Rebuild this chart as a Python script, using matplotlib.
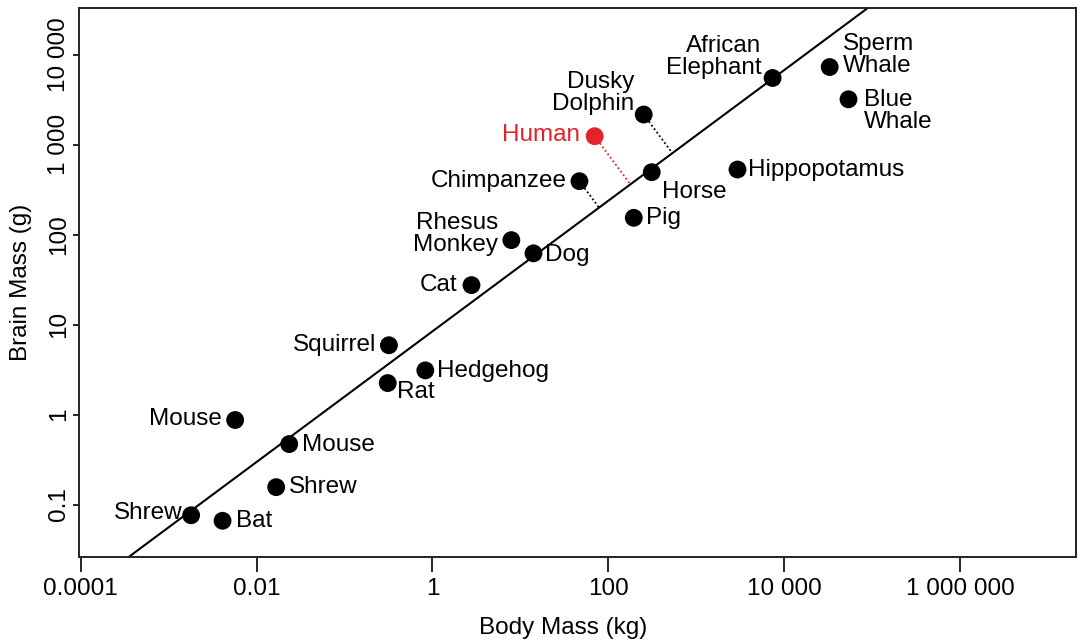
import numpy as np
import matplotlib.pyplot as plt

plt.rcParams['font.family'] = ['Liberation Sans', 'DejaVu Sans']

# body mass (kg) vs brain mass (g)
animals = ['Shrew', 'Bat', 'Mouse', 'Shrew', 'Mouse', 'Squirrel', 'Rat', 'Hedgehog',
           'Cat', 'Rhesus\nMonkey', 'Dog', 'Chimpanzee', 'Human', 'Dusky\nDolphin',
           'Horse', 'Pig', 'Hippopotamus', 'African\nElephant', 'Sperm\nWhale',
           'Blue\nWhale']
body_kg = [0.0018, 0.0041, 0.0057, 0.0167, 0.0235, 0.32, 0.31, 0.83,
           2.78, 7.9, 14.1, 47, 70, 253,
           312, 195, 2950, 7400, 33000,
           54000]
brain_g = [0.076, 0.066, 0.87, 0.156, 0.47, 5.9, 2.24, 3.1,
           27.5, 87, 62, 393, 1243, 2166,
           495, 154, 530, 5520, 7310,
           3200]

# fitted allometric line: log10(brain) = fit_b + fit_a * log10(body)
fit_a = 0.726
fit_b = 0.925

# species whose distance to the fitted line is drawn
residual_marked = ['Chimpanzee', 'Human', 'Dusky\nDolphin']
highlight = 'Human'

xticks = [1e-4, 1e-2, 1, 1e2, 1e4, 1e6]
xtick_labels = ['0.0001', '0.01', '1', '100', '10 000', '1 000 000']
yticks = [0.1, 1, 10, 100, 1000, 10000]
ytick_labels = ['0.1', '1', '10', '100', '1 000', '10 000']

# label offsets in pixels (dx, dy) and horizontal alignment, one per animal
label_pos = [(-9, 2, 'right'), (13, 0, 'left'), (-13, 1, 'right'), (13, 0, 'left'),
             (13, -1, 'left'), (-13, 0, 'right'), (9, -9, 'left'), (12, -1, 'left'),
             (-14, 0, 'right'), (-13, 6, 'right'), (12, -2, 'left'), (-13, 0, 'right'),
             (-15, 1, 'right'), (-9, 22, 'right'), (10, -20, 'left'), (12, 0, 'left'),
             (11, 0, 'left'), (-11, 21, 'right'), (13, 12, 'left'), (15, -12, 'left')]

red = '#e3222a'
fs = 17.5

W, H = 1081, 642
fig = plt.figure(figsize=(W / 100, H / 100), dpi=100)
ax = fig.add_axes([79 / W, 1 - 556.7 / H, (1076 - 79) / W, (556.7 - 8) / H])
ax.set_xscale('log')
ax.set_yscale('log')
ax.set_xlim(10 ** -4.02, 10 ** 7.32)
ax.set_ylim(10 ** -1.58, 10 ** 4.52)

# regression line
xs = np.logspace(-4.02, 7.32, 60)
ys = 10 ** (fit_b + fit_a * np.log10(xs))
ax.plot(xs, ys, color='black', lw=1.5, zorder=2)

# perpendicular (on screen) from selected species to the line
p0 = ax.transData.transform((xs[0], ys[0]))
p1 = ax.transData.transform((xs[-1], ys[-1]))
u = (p1 - p0) / np.hypot(*(p1 - p0))
for name, x, y in zip(animals, body_kg, brain_g):
    if name not in residual_marked:
        continue
    q = ax.transData.transform((x, y))
    foot = p0 + np.dot(q - p0, u) * u
    fx, fy = ax.transData.inverted().transform(foot)
    c = red if name == highlight else 'black'
    ax.plot([x, fx], [y, fy], ls=(0, (1, 1.4)), color=c, lw=1.3, zorder=1)

colors = [red if a == highlight else 'black' for a in animals]
ax.scatter(body_kg, brain_g, s=165, c=colors, linewidths=0, zorder=3)

for name, x, y, c, (dx, dy, ha) in zip(animals, body_kg, brain_g, colors, label_pos):
    ax.annotate(name, (x, y), xytext=(dx, dy), textcoords='offset pixels',
                ha=ha, va='center', multialignment=ha, fontsize=fs, color=c,
                linespacing=1.0, zorder=4)

ax.set_xticks(xticks, xtick_labels)
ax.set_yticks(yticks, ytick_labels, rotation=90, va='center')
ax.minorticks_off()
ax.tick_params(axis='x', length=11, width=1.2, pad=4, labelsize=fs)
ax.tick_params(axis='y', length=4.5, width=1.2, pad=2, labelsize=fs)
for s in ax.spines.values():
    s.set_linewidth(1.4)
    s.set_color('#222222')

ax.set_xlabel('Body Mass (kg)', fontsize=fs)
ax.xaxis.set_label_coords(0.486, -0.11)
ax.set_ylabel('Brain Mass (g)', fontsize=fs)
ax.yaxis.set_label_coords(-0.047, 0.5)

fig.savefig('out.png', dpi=100)
